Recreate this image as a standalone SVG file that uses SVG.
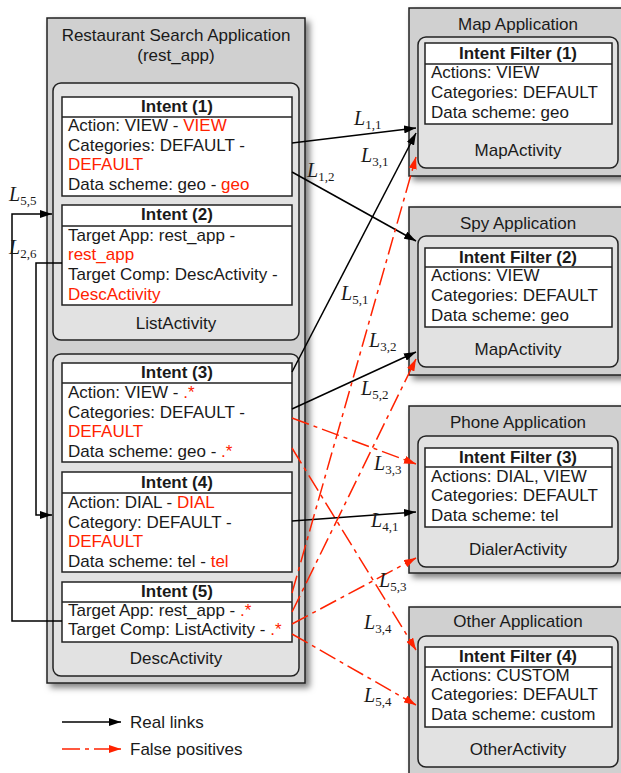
<svg xmlns="http://www.w3.org/2000/svg" width="621" height="773" viewBox="0 0 621 773">
<style>
.t{font-family:"Liberation Sans",Arial,sans-serif;font-size:17px;fill:#1a1a1a}
.b{font-weight:bold}
.c{text-anchor:middle}
.r{fill:#ff2200}
.outer{fill:#d0d0d0;stroke:#222;stroke-width:1.5;filter:url(#sh)}
.inner{fill:#e2e2e2;stroke:#222;stroke-width:1.5}
.box{fill:#fff;stroke:#222;stroke-width:1.5}
.lk{fill:none;stroke:#000;stroke-width:1.5;marker-end:url(#ab)}
.fp{fill:none;stroke:#ff2200;stroke-width:1.5;stroke-dasharray:18 5 4 5;marker-end:url(#ar)}
.lb{font-family:"Liberation Serif","Times New Roman",serif;font-style:italic;font-size:20px;fill:#1a1a1a}
.sb{font-style:normal;font-size:13px}
</style>
<defs>
<filter id="sh" x="-10%" y="-10%" width="125%" height="125%"><feDropShadow dx="4" dy="4" stdDeviation="3" flood-color="#000" flood-opacity="0.5"/></filter>
<marker id="ab" viewBox="0 0 12 8" refX="12" refY="4" markerWidth="12" markerHeight="8" markerUnits="userSpaceOnUse" orient="auto"><path d="M0,0 L12,4 L0,8 z" fill="#000"/></marker>
<marker id="ar" viewBox="0 0 12 8" refX="12" refY="4" markerWidth="12" markerHeight="8" markerUnits="userSpaceOnUse" orient="auto"><path d="M0,0 L12,4 L0,8 z" fill="#ff2200"/></marker>
</defs>
<rect width="621" height="773" fill="#fff"/>

<g id="rest_app">
<rect class="outer" x="47" y="18" width="258" height="665"/>
<text class="t c" x="176" y="41">Restaurant Search Application</text>
<text class="t c" x="176" y="61">(rest_app)</text>
</g>
<g id="ListActivity">
<rect class="inner" x="53" y="83" width="246" height="257" rx="8"/>
<text class="t c" x="176" y="329">ListActivity</text>
</g>
<g id="intent1">
<rect class="box" x="62" y="97" width="230" height="99"/>
<line x1="62" y1="117" x2="292" y2="117" stroke="#222" stroke-width="1.5"/>
<text class="t b c" x="177" y="112">Intent (1)</text>
<text class="t" x="68" y="131">Action: VIEW - <tspan class="r">VIEW</tspan></text>
<text class="t" x="68" y="151">Categories: DEFAULT -</text>
<text class="t r" x="68" y="170">DEFAULT</text>
<text class="t" x="68" y="190">Data scheme: geo - <tspan class="r">geo</tspan></text>
</g>
<g id="intent2">
<rect class="box" x="62" y="205" width="230" height="100"/>
<line x1="62" y1="226" x2="292" y2="226" stroke="#222" stroke-width="1.5"/>
<text class="t b c" x="177" y="220">Intent (2)</text>
<text class="t" x="68" y="241">Target App: rest_app -</text>
<text class="t r" x="68" y="260">rest_app</text>
<text class="t" x="68" y="280">Target Comp: DescActivity -</text>
<text class="t r" x="68" y="300">DescActivity</text>
</g>
<g id="DescActivity">
<rect class="inner" x="53" y="354" width="246" height="322" rx="8"/>
<text class="t c" x="176" y="664">DescActivity</text>
</g>
<g id="intent3">
<rect class="box" x="62" y="363" width="230" height="99"/>
<line x1="62" y1="383" x2="292" y2="383" stroke="#222" stroke-width="1.5"/>
<text class="t b c" x="177" y="378">Intent (3)</text>
<text class="t" x="68" y="398">Action: VIEW - <tspan class="r">.*</tspan></text>
<text class="t" x="68" y="418">Categories: DEFAULT -</text>
<text class="t r" x="68" y="437">DEFAULT</text>
<text class="t" x="68" y="457">Data scheme: geo - <tspan class="r">.*</tspan></text>
</g>
<g id="intent4">
<rect class="box" x="62" y="472" width="230" height="100"/>
<line x1="62" y1="493" x2="292" y2="493" stroke="#222" stroke-width="1.5"/>
<text class="t b c" x="177" y="488">Intent (4)</text>
<text class="t" x="68" y="508">Action: DIAL - <tspan class="r">DIAL</tspan></text>
<text class="t" x="68" y="528">Category: DEFAULT -</text>
<text class="t r" x="68" y="547">DEFAULT</text>
<text class="t" x="68" y="567">Data scheme: tel - <tspan class="r">tel</tspan></text>
</g>
<g id="intent5">
<rect class="box" x="62" y="582" width="230" height="60"/>
<line x1="62" y1="602" x2="292" y2="602" stroke="#222" stroke-width="1.5"/>
<text class="t b c" x="177" y="597">Intent (5)</text>
<text class="t" x="68" y="616">Target App: rest_app - <tspan class="r">.*</tspan></text>
<text class="t" x="68" y="635">Target Comp: ListActivity - <tspan class="r">.*</tspan></text>
</g>

<g id="map_app">
<rect class="outer" x="409" y="8" width="216" height="168"/>
<text class="t c" x="518" y="30">Map Application</text>
<rect class="inner" x="418" y="37" width="200" height="131" rx="8"/>
<text class="t c" x="518" y="156">MapActivity</text>
<rect class="box" x="425" y="43" width="187" height="81"/>
<line x1="425" y1="64" x2="612" y2="64" stroke="#222" stroke-width="1.5"/>
<text class="t b c" x="518" y="59">Intent Filter (1)</text>
<text class="t" x="431" y="78">Actions: VIEW</text>
<text class="t" x="431" y="98">Categories: DEFAULT</text>
<text class="t" x="431" y="118">Data scheme: geo</text>
</g>
<g id="spy_app">
<rect class="outer" x="409" y="207" width="216" height="168"/>
<text class="t c" x="518" y="229">Spy Application</text>
<rect class="inner" x="418" y="236" width="200" height="131" rx="8"/>
<text class="t c" x="518" y="355">MapActivity</text>
<rect class="box" x="425" y="248" width="187" height="79"/>
<line x1="425" y1="267" x2="612" y2="267" stroke="#222" stroke-width="1.5"/>
<text class="t b c" x="518" y="263">Intent Filter (2)</text>
<text class="t" x="431" y="281">Actions: VIEW</text>
<text class="t" x="431" y="301">Categories: DEFAULT</text>
<text class="t" x="431" y="321">Data scheme: geo</text>
</g>
<g id="phone_app">
<rect class="outer" x="409" y="406" width="216" height="167"/>
<text class="t c" x="518" y="428">Phone Application</text>
<rect class="inner" x="418" y="436" width="200" height="131" rx="8"/>
<text class="t c" x="518" y="555">DialerActivity</text>
<rect class="box" x="425" y="448" width="187" height="79"/>
<line x1="425" y1="467" x2="612" y2="467" stroke="#222" stroke-width="1.5"/>
<text class="t b c" x="518" y="463">Intent Filter (3)</text>
<text class="t" x="431" y="482">Actions: DIAL, VIEW</text>
<text class="t" x="431" y="501">Categories: DEFAULT</text>
<text class="t" x="431" y="521">Data scheme: tel</text>
</g>
<g id="other_app">
<rect class="outer" x="409" y="607" width="216" height="200"/>
<text class="t c" x="518" y="627">Other Application</text>
<rect class="inner" x="418" y="636" width="200" height="131" rx="8"/>
<text class="t c" x="518" y="755">OtherActivity</text>
<rect class="box" x="425" y="647" width="187" height="80"/>
<line x1="425" y1="667" x2="612" y2="667" stroke="#222" stroke-width="1.5"/>
<text class="t b c" x="518" y="662">Intent Filter (4)</text>
<text class="t" x="431" y="681">Actions: CUSTOM</text>
<text class="t" x="431" y="700">Categories: DEFAULT</text>
<text class="t" x="431" y="720">Data scheme: custom</text>
</g>

<g id="connectors">
<path class="lk" d="M292,143 L416,128"/>
<path class="lk" d="M292,172 L416,241"/>
<path class="lk" d="M292,372 L416,133"/>
<path class="lk" d="M292,409 L416,352"/>
<path class="fp" d="M292,418 L416,464"/>
<path class="fp" d="M292,448 L416,650"/>
<path class="lk" d="M292,521 L416,512"/>
<path class="fp" d="M292,593 L416,157"/>
<path class="fp" d="M292,612 L416,359"/>
<path class="fp" d="M292,624 L416,558"/>
<path class="fp" d="M292,634 L416,705"/>
<path class="lk" d="M62,621 L12,621 L12,214 L52,214"/>
<path class="lk" d="M62,263 L36,263 L36,515 L52,515"/>
<text class="lb" x="354" y="125">L<tspan class="sb" dy="4">1,1</tspan></text>
<text class="lb" x="361" y="162">L<tspan class="sb" dy="4">3,1</tspan></text>
<text class="lb" x="307" y="177">L<tspan class="sb" dy="4">1,2</tspan></text>
<text class="lb" x="341" y="300">L<tspan class="sb" dy="4">5,1</tspan></text>
<text class="lb" x="369" y="347">L<tspan class="sb" dy="4">3,2</tspan></text>
<text class="lb" x="361" y="395">L<tspan class="sb" dy="4">5,2</tspan></text>
<text class="lb" x="374" y="470">L<tspan class="sb" dy="4">3,3</tspan></text>
<text class="lb" x="371" y="527">L<tspan class="sb" dy="4">4,1</tspan></text>
<text class="lb" x="379" y="587">L<tspan class="sb" dy="4">5,3</tspan></text>
<text class="lb" x="364" y="629">L<tspan class="sb" dy="4">3,4</tspan></text>
<text class="lb" x="364" y="702">L<tspan class="sb" dy="4">5,4</tspan></text>
<text class="lb" x="9" y="201">L<tspan class="sb" dy="4">5,5</tspan></text>
<text class="lb" x="9" y="254">L<tspan class="sb" dy="4">2,6</tspan></text>
</g>

<g id="legend">
<path class="lk" d="M62,722 L121,722"/>
<text class="t" x="130" y="728">Real links</text>
<path class="fp" d="M62,749 L121,749"/>
<text class="t" x="130" y="755">False positives</text>
</g>
</svg>
